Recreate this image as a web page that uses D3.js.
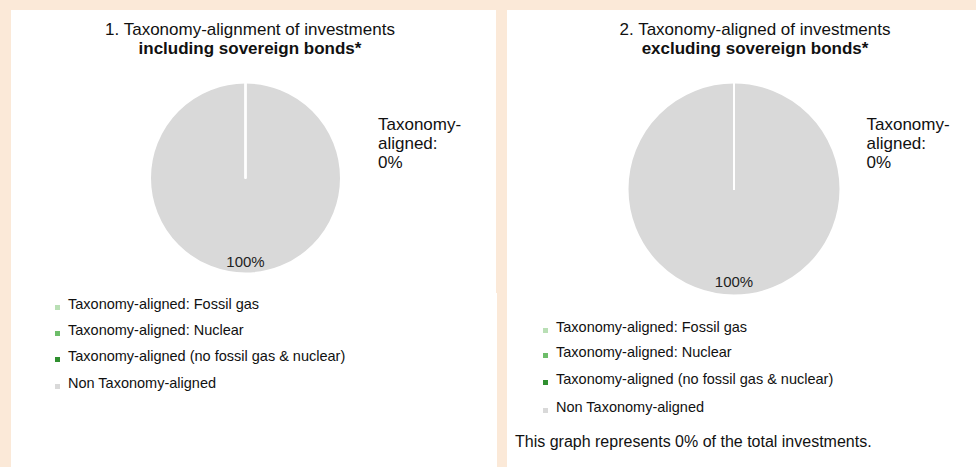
<!DOCTYPE html>
<html>
<head>
<meta charset="utf-8">
<script src="https://cdn.jsdelivr.net/npm/d3@7"></script>
<style>
  html, body { margin: 0; padding: 0; background: #fbe9d8; }
  svg { display: block; font-family: Arial, "Liberation Sans", sans-serif; }
</style>
</head>
<body>
<div id="chart"></div>
<script>
// Catégories de la légende (ordre des tranches)
const categories = [
    "Taxonomy-aligned: Fossil gas",
    "Taxonomy-aligned: Nuclear",
    "Taxonomy-aligned (no fossil gas & nuclear)",
    "Non Taxonomy-aligned"
];
const palette = ["#b9dfb5", "#6dbd69", "#2f8f2f", "#d9d9d9"];

// Valeurs (%) par graphique
const valuesInclSovereign = [0, 0, 0, 100];
const valuesExclSovereign = [0, 0, 0, 100];

const titlesLine1 = ["1. Taxonomy-alignment of investments", "2. Taxonomy-aligned of investments"];
const titlesLine2 = ["including sovereign bonds*", "excluding sovereign bonds*"];
const footNote = "This graph represents 0% of the total investments.";

const W = 976, H = 467;
const color = d3.scaleOrdinal().domain(categories).range(palette);

const svg = d3.select("#chart").append("svg")
    .attr("width", W)
    .attr("height", H);

svg.append("rect").attr("width", W).attr("height", H).attr("fill", "#fbe9d8");

// panneaux blancs
const panels = [
    { x: 11, y: 10, w: 485, h: 457, cx: 245.5, cy: 178, r: 95.5, legX: 55, legY: [305, 331, 357, 384], values: valuesInclSovereign },
    { x: 507, y: 10, w: 469, h: 457, cx: 734, cy: 189, r: 106.5, legX: 543, legY: [328, 353, 380, 408], values: valuesExclSovereign }
];

svg.append("rect").attr("x", 496).attr("y", 293).attr("width", 1).attr("height", H - 293).attr("fill", "#fff");

const pie = d3.pie().sort(null).value(d => d.value);

panels.forEach((p, i) => {
    svg.append("rect")
        .attr("x", p.x).attr("y", p.y)
        .attr("width", p.w).attr("height", p.h)
        .attr("fill", "#fff");

    const midX = p.x + (i === 0 ? 239 : 248);

    // --- TITRE ---
    const title = svg.append("text")
        .attr("text-anchor", "middle")
        .style("font-size", "17px")
        .attr("fill", "#111");
    title.append("tspan").attr("x", midX).attr("y", 34.5).text(titlesLine1[i]);
    title.append("tspan").attr("x", midX).attr("y", 53.5)
        .style("font-weight", "bold").text(titlesLine2[i]);

    // --- CAMEMBERT ---
    const data = categories.map((c, k) => ({ cat: c, value: p.values[k] }));
    const arcs = pie(data);
    const arc = d3.arc().innerRadius(0).outerRadius(p.r);
    const labelArc = d3.arc().innerRadius(p.r * 0.875).outerRadius(p.r * 0.875);

    const g = svg.append("g").attr("transform", `translate(${p.cx},${p.cy})`);

    // les tranches nulles sont dessinées en dernier (trait blanc visible)
    g.selectAll("path")
        .data(arcs.slice().reverse())
        .enter()
        .append("path")
        .attr("d", arc)
        .attr("fill", d => color(d.data.cat))
        .attr("stroke", "#fff")
        .attr("stroke-width", 2)
        .attr("stroke-linejoin", "round");

    g.selectAll(".lbl")
        .data(arcs.filter(d => d.data.value > 0))
        .enter()
        .append("text")
        .attr("class", "lbl")
        .attr("transform", d => `translate(${labelArc.centroid(d)})`)
        .attr("dy", "0.35em")
        .attr("text-anchor", "middle")
        .style("font-size", "15px")
        .attr("fill", "#222")
        .text(d => d.data.value + "%");

    // libellé externe des parts alignées
    const aligned = d3.sum(p.values.slice(0, 3));
    const ext = svg.append("text")
        .style("font-size", "17px")
        .attr("fill", "#111");
    ["Taxonomy-", "aligned:", aligned + "%"].forEach((t, k) => {
        ext.append("tspan").attr("x", p.cx + 132.5).attr("y", 130 + k * 19).text(t);
    });

    // --- LÉGENDE ---
    const leg = svg.append("g");
    categories.forEach((c, k) => {
        leg.append("rect")
            .attr("x", p.legX).attr("y", p.legY[k])
            .attr("width", 5).attr("height", 5)
            .attr("fill", color(c));
        leg.append("text")
            .attr("x", p.legX + 13)
            .attr("y", p.legY[k] + 4)
            .style("font-size", "14.5px")
            .attr("fill", "#111")
            .text(c);
    });
});

svg.append("text")
    .attr("x", 515).attr("y", 447)
    .style("font-size", "16px")
    .attr("fill", "#111")
    .text(footNote);
</script>
</body>
</html>
